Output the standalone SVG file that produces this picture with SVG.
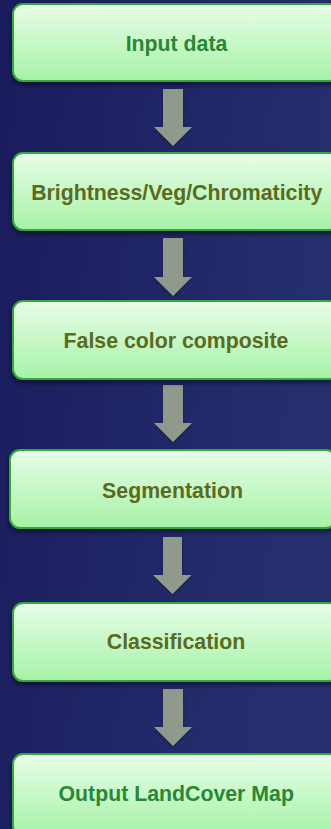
<svg xmlns="http://www.w3.org/2000/svg" width="331" height="829" viewBox="0 0 331 829">
  <defs>
    <linearGradient id="bg" x1="0" y1="0" x2="1" y2="0.3">
      <stop offset="0" stop-color="#1a1b5c"/>
      <stop offset="1" stop-color="#26306e"/>
    </linearGradient>
    <linearGradient id="boxFill" x1="0" y1="0" x2="0" y2="1">
      <stop offset="0" stop-color="#e8fde8"/>
      <stop offset="1" stop-color="#a6f2a6"/>
    </linearGradient>
    <filter id="shadow" x="-10%" y="-10%" width="130%" height="140%">
      <feDropShadow dx="0" dy="3" stdDeviation="2.5" flood-color="#000010" flood-opacity="0.55"/>
    </filter>
    <filter id="arrowShadow" x="-30%" y="-10%" width="160%" height="130%">
      <feDropShadow dx="0" dy="1" stdDeviation="1.5" flood-color="#000010" flood-opacity="0.4"/>
    </filter>
  </defs>
  <style>
    .box { fill: url(#boxFill); stroke: #33a83e; stroke-width: 2; filter: url(#shadow); }
    .label { font-family: "Liberation Sans", Arial, sans-serif; font-weight: bold; font-size: 21.3px; text-anchor: middle; }
    .green { fill: #2b8736; }
    .olive { fill: #5b6b1e; }
    .arrow { fill: #8f9a8c; filter: url(#arrowShadow); }
  </style>

  <rect width="331" height="829" fill="url(#bg)"/>

  <g id="connectors">
    <polygon class="arrow" points="163,89 183,89 183,127 192,127 173,146 154,127 163,127"/>
    <polygon class="arrow" points="163,238 183,238 183,277 192,277 173,296 154,277 163,277"/>
    <polygon class="arrow" points="163,385 183,385 183,423 192,423 173,442 154,423 163,423"/>
    <polygon class="arrow" points="163,537 182,537 182,575 191.5,575 172.5,594 153,575 163,575"/>
    <polygon class="arrow" points="163,689 183,689 183,727 192,727 173,746 154,727 163,727"/>
  </g>

  <g id="input-data">
    <rect class="box" x="13" y="4" width="327" height="77" rx="10"/>
    <text class="label green" x="176.5" y="51">Input data</text>
  </g>

  <g id="brightness-veg-chromaticity">
    <rect class="box" x="13" y="153" width="327" height="77" rx="10"/>
    <text class="label olive" x="176.7" y="200">Brightness/Veg/Chromaticity</text>
  </g>

  <g id="false-color-composite">
    <rect class="box" x="13" y="301" width="327" height="78" rx="10"/>
    <text class="label olive" x="176" y="348">False color composite</text>
  </g>

  <g id="segmentation">
    <rect class="box" x="10" y="450" width="326" height="78" rx="10"/>
    <text class="label olive" x="172.5" y="498">Segmentation</text>
  </g>

  <g id="classification">
    <rect class="box" x="13" y="603" width="327" height="78" rx="10"/>
    <text class="label olive" x="176" y="649">Classification</text>
  </g>

  <g id="output-landcover-map">
    <rect class="box" x="13" y="754" width="327" height="82" rx="10"/>
    <text class="label green" x="176.2" y="801">Output LandCover Map</text>
  </g>
</svg>
